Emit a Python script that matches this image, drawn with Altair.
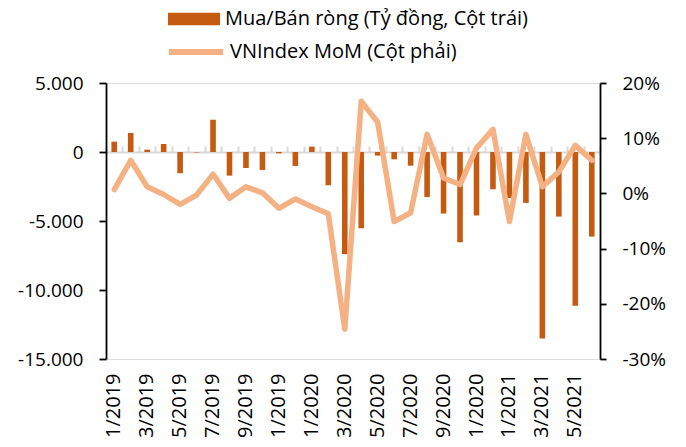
import altair as alt
import pandas as pd

months = [
    "1/2019", "2/2019", "3/2019", "4/2019", "5/2019", "6/2019",
    "7/2019", "8/2019", "9/2019", "10/2019", "11/2019", "12/2019",
    "1/2020", "2/2020", "3/2020", "4/2020", "5/2020", "6/2020",
    "7/2020", "8/2020", "9/2020", "10/2020", "11/2020", "12/2020",
    "1/2021", "2/2021", "3/2021", "4/2021", "5/2021", "6/2021",
]
net_buy = [
    750, 1380, 170, 580, -1540, -30,
    2340, -1710, -1160, -1300, -100, -1010,
    390, -2410, -7400, -5520, -260, -530,
    -990, -3260, -4460, -6540, -4600, -2700,
    -3330, -3690, -13510, -4680, -11140, -6130,
]
vnindex_mom = [
    0.007, 0.060, 0.012, -0.002, -0.020, -0.003,
    0.035, -0.009, 0.012, 0.001, -0.027, -0.010,
    -0.024, -0.037, -0.246, 0.167, 0.129, -0.051,
    -0.035, 0.107, 0.028, 0.016, 0.082, 0.116,
    -0.051, 0.107, 0.012, 0.039, 0.087, 0.060,
]
bar_label = "Mua/Bán ròng (Tỷ đồng, Cột trái)"
line_label = "VNIndex MoM (Cột phải)"
x_label_values = months[::2]
left_ticks = [-15000, -10000, -5000, 0, 5000]
right_ticks = [-0.3, -0.2, -0.1, 0.0, 0.1, 0.2]

df = pd.DataFrame({
    "month": months,
    "net": net_buy,
    "mom": vnindex_mom,
    "s_bar": bar_label,
    "s_line": line_label,
})

FONT = "Open Sans"
BAR_COLOR = "#C55A11"
LINE_COLOR = "#F4B183"

x_top = alt.X(
    "month:N", sort=months, title=None,
    scale=alt.Scale(paddingInner=0, paddingOuter=0),
    axis=alt.Axis(
        orient="top", offset=-69, labels=False, domainColor="#D9D9D9",
        domainWidth=2, tickColor="#D9D9D9", tickWidth=2, tickSize=6,
        tickBand="extent", zindex=0,
    ),
)
x_bottom = alt.X(
    "month:N", sort=months, title=None,
    scale=alt.Scale(paddingInner=0, paddingOuter=0),
    axis=alt.Axis(
        orient="bottom", values=x_label_values, labelAngle=-90,
        domain=False, ticks=False, tickSize=0, labelPadding=14,
        labelFont=FONT, labelFontSize=20, labelColor="black",
    ),
)

bars = alt.Chart(df).mark_bar(width=alt.RelativeBandSize(0.34)).encode(
    x=x_top,
    y=alt.Y(
        "net:Q", title=None,
        scale=alt.Scale(domain=[-15000, 5000], nice=False, zero=False),
        axis=alt.Axis(
            orient="left", values=left_ticks, grid=False,
            domainColor="black", domainWidth=1.8, tickColor="black",
            tickWidth=1.8, tickSize=7, labelPadding=16,
            labelFont=FONT, labelFontSize=19, labelColor="black",
            labelExpr="(datum.value < 0 ? '-' : '') + replace(format(abs(datum.value), ','), ',', '.')",
        ),
    ),
    color=alt.Color(
        "s_bar:N", title=None,
        scale=alt.Scale(domain=[bar_label], range=[BAR_COLOR]),
        legend=alt.Legend(
            orient="none", legendX=62, legendY=-90,
            symbolType="M-1,-0.24H1V0.24H-1Z", symbolSize=2704,
            symbolStrokeWidth=0, labelFont=FONT, labelFontSize=20,
            labelColor="black", labelOffset=5, labelLimit=400,
        ),
    ),
)

line = alt.Chart(df).mark_line(
    strokeWidth=5.5, strokeCap="round", strokeJoin="round"
).encode(
    x=x_bottom,
    y=alt.Y(
        "mom:Q", title=None,
        scale=alt.Scale(domain=[-0.3, 0.2], nice=False, zero=False),
        axis=alt.Axis(
            orient="right", values=right_ticks, grid=False,
            domainColor="black", domainWidth=1.8, tickColor="black",
            tickWidth=1.8, tickSize=6, labelPadding=16,
            labelFont=FONT, labelFontSize=19, labelColor="black",
            labelExpr="(datum.value < 0 ? '-' : '') + format(abs(datum.value) * 100, '.0f') + '%'",
        ),
    ),
    color=alt.Color(
        "s_line:N", title=None,
        scale=alt.Scale(domain=[line_label], range=[LINE_COLOR]),
        legend=alt.Legend(
            orient="none", legendX=60, legendY=-61,
            symbolType="stroke", symbolSize=2916, symbolStrokeWidth=6,
            labelFont=FONT, labelFontSize=20, labelColor="black",
            labelOffset=4, labelLimit=400,
        ),
    ),
)

chart = alt.layer(bars, line).resolve_scale(
    y="independent", color="independent"
).resolve_axis(x="independent").properties(
    width=494, height=276,
    autosize=alt.AutoSizeParams(type="none"),
    padding={"left": 98, "top": 75, "right": 76, "bottom": 80},
).configure_view(stroke=None).configure(background="white")

chart.save("out.html", embed_options={"renderer": "svg", "actions": False})
